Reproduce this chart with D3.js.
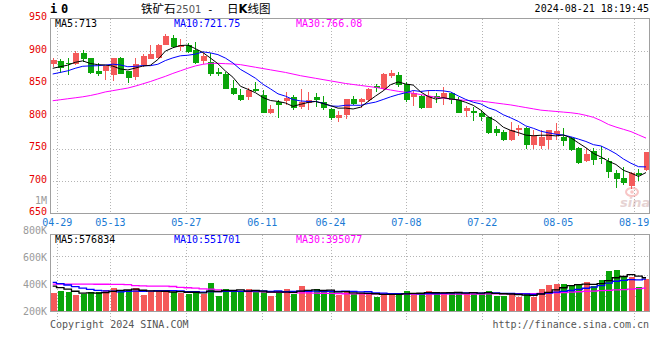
<!DOCTYPE html>
<html><head><meta charset="utf-8">
<script src="https://cdn.jsdelivr.net/npm/d3@7/dist/d3.min.js"></script>
<style>html,body{margin:0;padding:0;background:#fff;}svg{display:block;}</style>
</head><body>
<div id="chart"></div>
<script>
const dates = ["04-26","04-29","04-30","05-06","05-07","05-08","05-09","05-10","05-13","05-14","05-15","05-16","05-17","05-20","05-21","05-22","05-23","05-24","05-27","05-28","05-29","05-30","05-31","06-03","06-04","06-05","06-06","06-07","06-11","06-12","06-13","06-14","06-17","06-18","06-19","06-20","06-21","06-24","06-25","06-26","06-27","06-28","07-01","07-02","07-03","07-04","07-05","07-08","07-09","07-10","07-11","07-12","07-15","07-16","07-17","07-18","07-19","07-22","07-23","07-24","07-25","07-26","07-29","07-30","07-31","08-01","08-02","08-05","08-06","08-07","08-08","08-09","08-12","08-13","08-14","08-15","08-16","08-19","08-20","08-21"];
const openP  = [880,884,882,880,897,889,869,869,863,889,870,860,879,888,889,909,920,906,910,902,885,883,868,865,843,832,829,842,832,804,821,823,830,814,820,830,821,811,797,801,826,821,825,846,841,862,863,850,829,831,813,831,827,836,824,808,808,805,798,780,776,763,779,782,755,754,763,772,768,766,751,731,746,736,731,712,704,692,713,717];
const highP  = [890,888,890,900,902,890,882,877,890,891,870,890,895,909,911,926,925,919,912,914,897,897,874,867,855,842,843,853,840,817,825,837,833,841,837,836,831,812,808,826,831,828,843,849,866,871,868,852,839,833,840,835,844,837,830,815,814,809,799,784,779,791,786,783,779,778,779,789,781,767,752,751,751,754,736,717,721,714,718,745];
const lowP   = [875,866,863,878,883,865,861,855,854,864,851,856,875,887,887,909,905,900,897,880,880,861,861,841,832,823,825,837,804,803,797,817,809,811,809,814,809,794,791,796,817,812,822,837,840,858,844,822,816,811,813,820,817,818,805,798,792,792,773,770,761,762,769,750,750,749,749,763,754,746,726,729,724,726,705,690,694,687,700,716];
const closeP = [886,874,880,897,887,866,865,877,889,865,858,880,892,895,909,923,906,909,898,882,893,864,865,842,834,824,840,839,805,811,817,828,813,821,825,825,812,797,801,826,818,826,841,843,865,866,847,825,835,812,831,827,836,825,805,812,804,799,774,774,763,779,782,755,769,767,779,777,762,747,728,742,733,735,714,703,697,712,709,744];
const priorClose = [850,855,858,856,860,862,868,875,876];
const ma30Price = [823.5,825,826.5,828,829.5,831.5,834,837,839,841,843,846,849.5,853,857,861,865.5,869.5,873.5,877,879.5,881,881,880.5,880,879,877,875,873,871,869,867,864.5,862,860,858,856,854,852,850,848.5,847,845.5,844,842,840,838,836.5,835,833,831,829,827.5,826,825,824,823.5,823,821.5,820,818.5,817,815,813,811,809,808,807,806,805,803.5,801,798,793,787,783,779.5,776,771,766];
const volume = [307,346,329,277,289,329,329,364,398,364,364,398,277,346,346,346,334,307,294,346,294,490,265,381,346,346,381,324,324,265,346,381,294,433,334,381,334,334,277,346,289,307,307,248,289,289,307,346,289,307,346,294,329,307,329,294,329,289,346,265,265,307,248,289,248,381,450,468,468,433,460,500,440,545,688,710,610,595,420,549].map(v => v * 1000);
const priorVolume = [580,560,545,570,550,480,455,470,453].map(v => v * 1000);
const ma30Volume = [467,467,466,466,465,465,464,464,463,462,458,440,436,433,432,430,425,408,403,395,385,378,365,350,345,342,338,335,332,328,325,322,318,315,313,310,308,305,300,299,298,297,296,296,295,295,294,294,294,294,294,294,294,294,294,294,295,295,296,296,297,298,299,300,302,306,310,315,320,327,334,340,346,352,358,365,372,380,388,395].map(v => v * 1000);
const tickIdx = [1,8,18,28,37,47,57,67,77];
const priceTicks = [950,900,850,800,750,700,650];
const priceGrid = [900,850,800,750,700];
const volTickLabels = ["800K","600K","400K","200K"];
const maPriceLabels = ["MA5:713","MA10:721.75","MA30:766.08"];
const maVolLabels = ["MA5:576834","MA10:551701","MA30:395077"];

const W = 660, H = 360;
const RED = "#f45a5a", GREEN = "#0aa50a";
const MONO = "'DejaVu Sans Mono', 'Liberation Mono', monospace";
const svg = d3.select("#chart").append("svg").attr("width", W).attr("height", H);

const n = closeP.length;
const xC = d3.scaleLinear().domain([0, n - 1]).range([52.7, 646]);
const xG = d3.scaleLinear().domain([0, n - 1]).range([49.7, 649.3]);
const yP = d3.scaleLinear().domain([650, 950]).range([213.5, 18.5]);
const yV = d3.scaleLinear().domain([0, 1330000]).range([311, 234.3]);
const yVLab = d3.scalePoint().domain(volTickLabels).range([230, 311]);

function movAvg(prior, arr, k) {
  const all = prior.concat(arr), off = prior.length;
  return arr.map((_, i) => d3.mean(all.slice(off + i - k + 1, off + i + 1)));
}
const ma5P = movAvg(priorClose, closeP, 5), ma10P = movAvg(priorClose, closeP, 10);
const ma5V = movAvg(priorVolume, volume, 5), ma10V = movAvg(priorVolume, volume, 10);

const gridStyle = s => s.attr("stroke", "#b4b4b4").attr("stroke-width", 1).attr("stroke-dasharray", "1,2").attr("shape-rendering", "crispEdges");
const gridTicks = tickIdx.filter(i => xG(i) < 640);

// main grid
svg.append("g").selectAll("line").data(priceGrid).join("line")
  .attr("x1", 50).attr("x2", 649).attr("y1", d => Math.round(yP(d)) + 0.5).attr("y2", d => Math.round(yP(d)) + 0.5).call(gridStyle);
svg.append("g").selectAll("line").data(gridTicks).join("line")
  .attr("x1", d => Math.round(xG(d)) + 0.5).attr("x2", d => Math.round(xG(d)) + 0.5).attr("y1", 18.5).attr("y2", 213.5).call(gridStyle);
// volume grid
svg.append("g").selectAll("line").data([yV.invert(255.5), yV.invert(275.5), yV.invert(295.5)]).join("line")
  .attr("x1", 50).attr("x2", 649).attr("y1", d => Math.round(yV(d)) + 0.5).attr("y2", d => Math.round(yV(d)) + 0.5).call(gridStyle);
svg.append("g").selectAll("line").data(gridTicks).join("line")
  .attr("x1", d => Math.round(xG(d)) + 0.5).attr("x2", d => Math.round(xG(d)) + 0.5).attr("y1", 234.5).attr("y2", 320).call(gridStyle);

// watermark
const wm = svg.append("g").attr("opacity", 0.45);
wm.append("ellipse").attr("cx", 632).attr("cy", 192).attr("rx", 6).attr("ry", 4).attr("fill", "none").attr("stroke", "#f08080").attr("stroke-width", 2);
wm.append("circle").attr("cx", 632).attr("cy", 192).attr("r", 1.8).attr("fill", "#f08080");
wm.append("text").attr("x", 620).attr("y", 207).attr("font-family", "'DejaVu Sans', sans-serif").attr("font-size", 13).attr("font-weight", "bold").attr("font-style", "italic").attr("fill", "#c8a0a0").text("sina");

// candles
const idx = d3.range(n);
const cg = svg.append("g").attr("shape-rendering", "crispEdges");
cg.selectAll("line").data(idx).join("line")
  .attr("x1", i => Math.round(xC(i)) + 0.5).attr("x2", i => Math.round(xC(i)) + 0.5)
  .attr("y1", i => yP(highP[i])).attr("y2", i => yP(lowP[i]))
  .attr("stroke", i => closeP[i] >= openP[i] ? RED : GREEN).attr("stroke-width", 1);
cg.selectAll("rect").data(idx).join("rect")
  .attr("x", i => Math.round(xC(i)) - 2.5).attr("width", 6)
  .attr("y", i => yP(Math.max(openP[i], closeP[i])))
  .attr("height", i => Math.max(1, Math.abs(yP(openP[i]) - yP(closeP[i]))))
  .attr("fill", i => closeP[i] >= openP[i] ? RED : GREEN);

// price MA lines
const lineP = d3.line().x((d, i) => xC(i)).y(d => yP(d));
[[ma30Price, "#ff00ff"], [ma10P, "#0000ff"], [ma5P, "#000000"]].forEach(([arr, c]) =>
  svg.append("path").attr("d", lineP(arr)).attr("fill", "none").attr("stroke", c).attr("stroke-width", 1));

// volume bars
svg.append("g").attr("shape-rendering", "crispEdges").selectAll("rect").data(idx).join("rect")
  .attr("x", i => Math.round(xC(i)) - 2.5).attr("width", 6)
  .attr("y", i => yV(volume[i])).attr("height", i => yV(0) - yV(volume[i]))
  .attr("fill", i => closeP[i] >= openP[i] ? RED : GREEN);
const lineV = d3.line().x((d, i) => xC(i)).y(d => yV(d)).curve(d3.curveStep);
[[ma30Volume, "#ff00ff"], [ma10V, "#0000ff"], [ma5V, "#000000"]].forEach(([arr, c]) =>
  svg.append("path").attr("d", lineV(arr)).attr("fill", "none").attr("stroke", c).attr("stroke-width", 1.3));

// borders
svg.append("rect").attr("x", 50.5).attr("y", 18.5).attr("width", 599).attr("height", 195)
  .attr("fill", "none").attr("stroke", "#a0a0a0").attr("stroke-width", 1).attr("shape-rendering", "crispEdges");
svg.append("rect").attr("x", 50.5).attr("y", 234.5).attr("width", 599).attr("height", 76.5)
  .attr("fill", "none").attr("stroke", "#a0a0a0").attr("stroke-width", 1).attr("shape-rendering", "crispEdges");

// y labels
svg.append("g").selectAll("text").data(priceTicks).join("text")
  .attr("x", 47).attr("y", d => yP(d) - 2).attr("dominant-baseline", "central").attr("text-anchor", "end")
  .attr("font-family", MONO).attr("font-size", 10).attr("fill", "#e60000").text(d => d);
svg.append("text").attr("x", 47).attr("y", 200.7).attr("dominant-baseline", "central").attr("text-anchor", "end")
  .attr("font-family", MONO).attr("font-size", 10).attr("fill", "#9a9a9a").text("1M");
svg.append("g").selectAll("text").data(volTickLabels).join("text")
  .attr("x", 47).attr("y", d => yVLab(d)).attr("dominant-baseline", "central").attr("text-anchor", "end")
  .attr("font-family", MONO).attr("font-size", 10).attr("fill", "#9a9a9a").text(d => d);

// x labels
svg.append("g").selectAll("text").data(tickIdx).join("text")
  .attr("x", i => xG(i)).attr("y", 222).attr("dominant-baseline", "central").attr("text-anchor", "middle")
  .attr("font-family", MONO).attr("font-size", 10).attr("fill", "#1a7ad4").text(i => dates[i]);

// MA labels
const maColors = ["#000000", "#0000ff", "#ff00ff"];
const maX = [55, 174, 296];
svg.append("g").selectAll("text").data(maPriceLabels).join("text")
  .attr("x", (d, i) => maX[i]).attr("y", 23.5).attr("dominant-baseline", "central")
  .attr("font-family", MONO).attr("font-size", 10).attr("fill", (d, i) => maColors[i]).text(d => d);
svg.append("g").selectAll("text").data(maVolLabels).join("text")
  .attr("x", (d, i) => maX[i]).attr("y", 239.5).attr("dominant-baseline", "central")
  .attr("font-family", MONO).attr("font-size", 10).attr("fill", (d, i) => maColors[i]).text(d => d);

// header
svg.append("text").attr("x", 50).attr("y", 13).attr("font-family", MONO).attr("font-size", 12).attr("font-weight", "bold").attr("fill", "#000").text("i");
svg.append("text").attr("x", 61).attr("y", 13).attr("font-family", MONO).attr("font-size", 12).attr("font-weight", "bold").attr("fill", "#000").text("0");
const CJK = "'Noto Sans CJK SC', sans-serif";
svg.append("text").attr("x", 141).attr("y", 13).attr("font-family", CJK).attr("font-size", 11.5).attr("fill", "#000").text("铁矿石");
svg.append("text").attr("x", 176).attr("y", 13).attr("font-family", "'DejaVu Sans', sans-serif").attr("font-size", 10).attr("fill", "#555").text("2501");
svg.append("text").attr("x", 207).attr("y", 13).attr("font-family", MONO).attr("font-size", 11).attr("fill", "#000").text("-");
const t2 = svg.append("text").attr("x", 227).attr("y", 13).attr("font-family", CJK).attr("font-size", 11.5).attr("fill", "#000");
t2.append("tspan").text("日");
t2.append("tspan").attr("font-weight", "bold").attr("font-family", "'DejaVu Sans', sans-serif").text("K");
t2.append("tspan").text("线图");
svg.append("text").attr("x", 649).attr("y", 12).attr("text-anchor", "end").attr("font-family", MONO).attr("font-size", 10).attr("fill", "#000").text("2024-08-21 18:19:45");

// footer
svg.append("text").attr("x", 50).attr("y", 324).attr("dominant-baseline", "central").attr("font-family", MONO).attr("font-size", 10).attr("fill", "#555").text("Copyright 2024 SINA.COM");
svg.append("text").attr("x", 649).attr("y", 324).attr("dominant-baseline", "central").attr("text-anchor", "end").attr("font-family", MONO).attr("font-size", 10).attr("fill", "#555").text("http://finance.sina.com.cn");
</script>
</body></html>
